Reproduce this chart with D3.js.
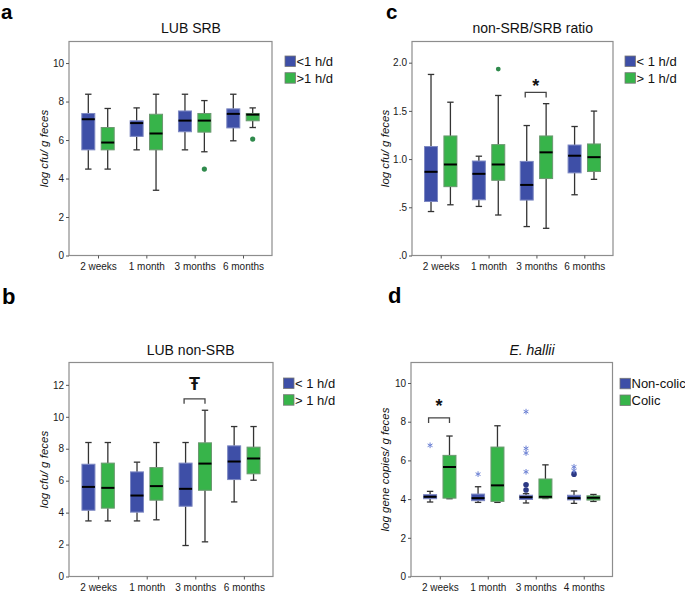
<!DOCTYPE html>
<html><head><meta charset="utf-8">
<script src="https://cdn.jsdelivr.net/npm/d3@7"></script>
<style>body{margin:0;background:#fff} svg{display:block;font-family:"Liberation Sans",Arial,sans-serif}</style>
</head><body>
<svg id="chart" width="685" height="592"></svg>
<script>
// ---------- DATA ----------
const categories = ["2 weeks", "1 month", "3 months", "6 months"];
const categoriesHallii = ["2 weeks", "1 month", "3 months", "4 months"];

// box stats: [min, q1, median, q3, max]
const lubSrbLow  = [[4.49,5.49,7.08,7.38,8.38],[5.49,6.19,6.88,7.00,7.67],[5.49,6.43,7.01,7.51,8.38],[5.96,6.63,7.36,7.62,8.38]];
const lubSrbHigh = [[4.49,5.49,5.87,6.65,7.64],[3.39,5.49,6.34,7.34,8.38],[5.39,6.41,7.01,7.38,8.05],[6.65,7.00,7.32,7.38,7.67]];
const lubSrbHighOutliers = [[], [], [4.49], [6.05]];

const nonSrbLow  = [[3.48,4.15,5.61,7.03,8.39],[3.48,4.03,5.07,6.55,7.16],[1.94,4.40,5.49,7.10,8.39],[4.67,6.07,7.20,8.18,9.39]];
const nonSrbHigh = [[3.48,4.28,5.55,7.10,8.39],[3.55,4.78,5.66,6.82,8.39],[2.17,5.40,7.07,8.37,10.41],[6.03,6.43,7.39,8.10,9.39]];

const ratioLow  = [[0.456,0.56,0.868,1.13,1.878],[0.509,0.578,0.847,0.98,1.03],[0.30,0.575,0.732,0.976,1.348],[0.63,0.857,1.035,1.146,1.338]];
const ratioHigh = [[0.526,0.714,0.944,1.24,1.59],[0.42,0.78,0.944,1.15,1.66],[0.282,0.798,1.07,1.24,1.575],[0.79,0.871,1.02,1.157,1.498]];
const ratioHighOutliers = [[], [1.934], [], []];

const halliiNonColic = [[3.85,4.02,4.12,4.23,4.40],[3.83,3.92,4.05,4.26,4.64],[3.80,3.98,4.10,4.20,4.28],[3.78,3.96,4.05,4.20,4.42]];
const halliiColic    = [[4.02,4.05,5.66,6.26,7.26],[3.83,3.88,4.71,6.69,7.79],[4.03,4.05,4.12,5.04,5.77],[3.88,3.95,4.07,4.17,4.24]];
const halliiNonColicCircles = [[], [], [4.47,4.74], [5.29]];
const halliiNonColicStars   = [[6.78], [5.29], [5.41,6.38,6.62,8.52], [5.47,5.67]];

const tickSrb = [0,2,4,6,8,10];
const tickNonSrb = [0,2,4,6,8,10,12];
const tickRatio = [0,0.5,1,1.5,2];
const tickRatioLabels = [".0",".5","1.0","1.5","2.0"];
const tickHallii = [0,2,4,6,8,10];

const legendHours = ["<1 h/d", ">1 h/d"];
const legendHoursSp = ["< 1 h/d", "> 1 h/d"];
const legendColic = ["Non-colic", "Colic"];

// significance: [category, bracket y, leg y, label baseline y, label]
const sigRatio = ["3 months", 1.693, 1.64, 1.694, "*"];
const sigNonSrb = ["3 months", 11.12, 10.81, 11.67, "\u0166"];
const sigHallii = ["2 weeks", 8.2, 7.93, 8.52, "*"];

// ---------- DRAW ----------
const BLUE = "#3e4fa7", GREEN = "#37b44a";
const BLUE_S = "#7d88c2", GREEN_S = "#6b9870";
const svg = d3.select("#chart");

function drawPanel(p) {
  const g = svg.append("g");
  const y = d3.scaleLinear().domain([0, p.ymax]).range([p.bottom, p.top]);
  const x0 = d3.scalePoint().domain(p.cats).range([p.left, p.right]).padding(0.6);
  const x1 = d3.scaleBand().domain([0, 1]).range([-16.2, 16.2]).paddingInner(0.33);
  const bw = x1.bandwidth();

  // frame
  g.append("rect").attr("x", p.left).attr("y", p.top)
    .attr("width", p.right - p.left).attr("height", p.bottom - p.top)
    .attr("fill", "none").attr("stroke", "#8d8d8d").attr("stroke-width", 1.2);

  // y axis
  const ya = g.append("g").attr("transform", `translate(${p.left},0)`)
    .call(d3.axisLeft(y).tickValues(p.ticks).tickSize(3).tickPadding(2)
      .tickFormat((d, i) => p.tickLabels ? p.tickLabels[i] : d3.format("d")(d)));
  ya.select(".domain").remove();
  ya.selectAll("line").attr("stroke", "#555");
  ya.selectAll("text").attr("font-size", 10).attr("fill", "#1a1a1a")
    .attr("font-family", "'Liberation Sans',Arial,sans-serif");

  // x axis
  const xa = g.append("g").attr("transform", `translate(0,${p.bottom})`)
    .call(d3.axisBottom(x0).tickSize(3).tickPadding(4));
  xa.select(".domain").remove();
  xa.selectAll("line").attr("stroke", "#555");
  xa.selectAll("text").attr("font-size", 10).attr("fill", "#1a1a1a")
    .attr("font-family", "'Liberation Sans',Arial,sans-serif");

  // boxes
  const series = [[p.lo, BLUE, BLUE_S], [p.hi, GREEN, GREEN_S]];
  series.forEach(([stats, fill, stroke], si) => {
    stats.forEach((s, ci) => {
      const cx = x0(p.cats[ci]) + x1(si) + bw / 2;
      const [mn, q1, md, q3, mx] = s;
      const wg = g.append("g").attr("stroke", "#333").attr("stroke-width", 1.3);
      wg.append("line").attr("x1", cx).attr("x2", cx).attr("y1", y(mx)).attr("y2", y(q3));
      wg.append("line").attr("x1", cx).attr("x2", cx).attr("y1", y(q1)).attr("y2", y(mn));
      wg.append("line").attr("x1", cx - 3.2).attr("x2", cx + 3.2).attr("y1", y(mx)).attr("y2", y(mx));
      wg.append("line").attr("x1", cx - 3.2).attr("x2", cx + 3.2).attr("y1", y(mn)).attr("y2", y(mn));
      g.append("rect").attr("x", cx - bw / 2).attr("width", bw)
        .attr("y", y(q3)).attr("height", Math.max(1, y(q1) - y(q3)))
        .attr("fill", fill).attr("stroke", stroke).attr("stroke-width", 1);
      g.append("line").attr("x1", cx - bw / 2).attr("x2", cx + bw / 2)
        .attr("y1", y(md)).attr("y2", y(md)).attr("stroke", "#000").attr("stroke-width", 2);
    });
  });

  // outliers
  (p.outliers || []).forEach(o => {
    o.data.forEach((vals, ci) => {
      const cx = x0(p.cats[ci]) + x1(o.series) + bw / 2;
      vals.forEach(v => {
        if (o.kind === "circle") {
          g.append("circle").attr("cx", cx).attr("cy", y(v)).attr("r", o.r || 2.6).attr("fill", o.color);
        } else {
          const sym = d3.symbolAsterisk || d3.symbolStar;
          g.append("path").attr("d", d3.symbol(sym, 22)())
            .attr("transform", `translate(${cx},${y(v)})`)
            .attr("fill", sym === d3.symbolStar ? o.color : "none")
            .attr("stroke", o.color).attr("stroke-width", 1);
        }
      });
    });
  });

  // significance
  if (p.sig) {
    const [cat, by, ly, lab, label] = p.sig;
    const xa0 = x0(cat) + x1(0) + bw / 2 - 1.5, xb0 = x0(cat) + x1(1) + bw / 2;
    g.append("path").attr("d", `M${xa0},${y(ly)}V${y(by)}H${xb0}V${y(ly)}`)
      .attr("fill", "none").attr("stroke", "#444").attr("stroke-width", 1.3);
    g.append("text").attr("x", (xa0 + xb0) / 2).attr("y", y(lab)).attr("text-anchor", "middle")
      .attr("font-size", 18).attr("font-weight", "bold").attr("fill", "#111").text(label);
  }

  // title
  g.append("text").attr("x", p.titleX).attr("y", p.titleY).attr("text-anchor", "middle")
    .attr("font-size", 14).attr("fill", "#111").attr("font-style", p.titleItalic ? "italic" : "normal")
    .text(p.title);

  // y label
  g.append("text").attr("transform", `translate(${p.ylabX},${(p.top + p.bottom) / 2}) rotate(-90)`)
    .attr("text-anchor", "middle").attr("font-size", 11.5).attr("font-style", "italic")
    .attr("fill", "#111").text(p.ylab);

  // legend
  [[BLUE, p.legend[0]], [GREEN, p.legend[1]]].forEach(([c, t], i) => {
    const ly = p.legY + i * 16.7;
    g.append("rect").attr("x", p.legX).attr("y", ly).attr("width", 10.5).attr("height", 10.5)
      .attr("fill", c).attr("stroke", "#777").attr("stroke-width", 0.8);
    g.append("text").attr("x", p.legX + 11.5).attr("y", ly + 10).attr("font-size", 13)
      .attr("fill", "#111").text(t);
  });

  // panel letter
  g.append("text").attr("x", p.letterX).attr("y", p.letterY).attr("font-size", p.letterSize || 22)
    .attr("font-weight", "bold").attr("fill", "#000").text(p.letter);
}

drawPanel({ cats: categories, lo: lubSrbLow, hi: lubSrbHigh, ymax: 11.12, ticks: tickSrb,
  left: 69, right: 272, top: 41.5, bottom: 255.5,
  outliers: [{ series: 1, kind: "circle", data: lubSrbHighOutliers, color: "#2f8a4c" }],
  title: "LUB SRB", titleX: 191, titleY: 32.5, ylab: "log cfu/ g feces", ylabX: 47.5,
  legend: legendHours, legX: 285, legY: 56, letter: "a", letterX: 1, letterY: 18.5, letterSize: 20.5 });

drawPanel({ cats: categories, lo: ratioLow, hi: ratioHigh, ymax: 2.2197, ticks: tickRatio, tickLabels: tickRatioLabels,
  left: 412, right: 613, top: 41.5, bottom: 255.5,
  outliers: [{ series: 1, kind: "circle", data: ratioHighOutliers, color: "#2f8a4c", r: 2.4 }],
  sig: sigRatio,
  title: "non-SRB/SRB ratio", titleX: 532.7, titleY: 32.5, ylab: "log cfu/ g feces", ylabX: 388.5,
  legend: legendHoursSp, legX: 625, legY: 56, letter: "c", letterX: 386, letterY: 18.5, letterSize: 20.5 });

drawPanel({ cats: categories, lo: nonSrbLow, hi: nonSrbHigh, ymax: 13.4, ticks: tickNonSrb,
  left: 69, right: 273, top: 362.5, bottom: 576.5,
  sig: sigNonSrb,
  title: "LUB non-SRB", titleX: 190.7, titleY: 355, ylab: "log cfu/ g feces", ylabX: 47.5,
  legend: legendHoursSp, legX: 283.5, legY: 378, letter: "b", letterX: 2, letterY: 304 });

drawPanel({ cats: categoriesHallii, lo: halliiNonColic, hi: halliiColic, ymax: 11.06, ticks: tickHallii,
  left: 411, right: 612.5, top: 362.5, bottom: 576.5,
  outliers: [{ series: 0, kind: "circle", data: halliiNonColicCircles, color: "#2c3984", r: 2.8 },
             { series: 0, kind: "star", data: halliiNonColicStars, color: "#6d82d4" }],
  sig: sigHallii,
  title: "E. hallii", titleX: 532, titleY: 355, titleItalic: true, ylab: "log gene copies/ g feces", ylabX: 389,
  legend: legendColic, legX: 620, legY: 378.3, letter: "d", letterX: 388, letterY: 303 });
</script>
</body></html>
